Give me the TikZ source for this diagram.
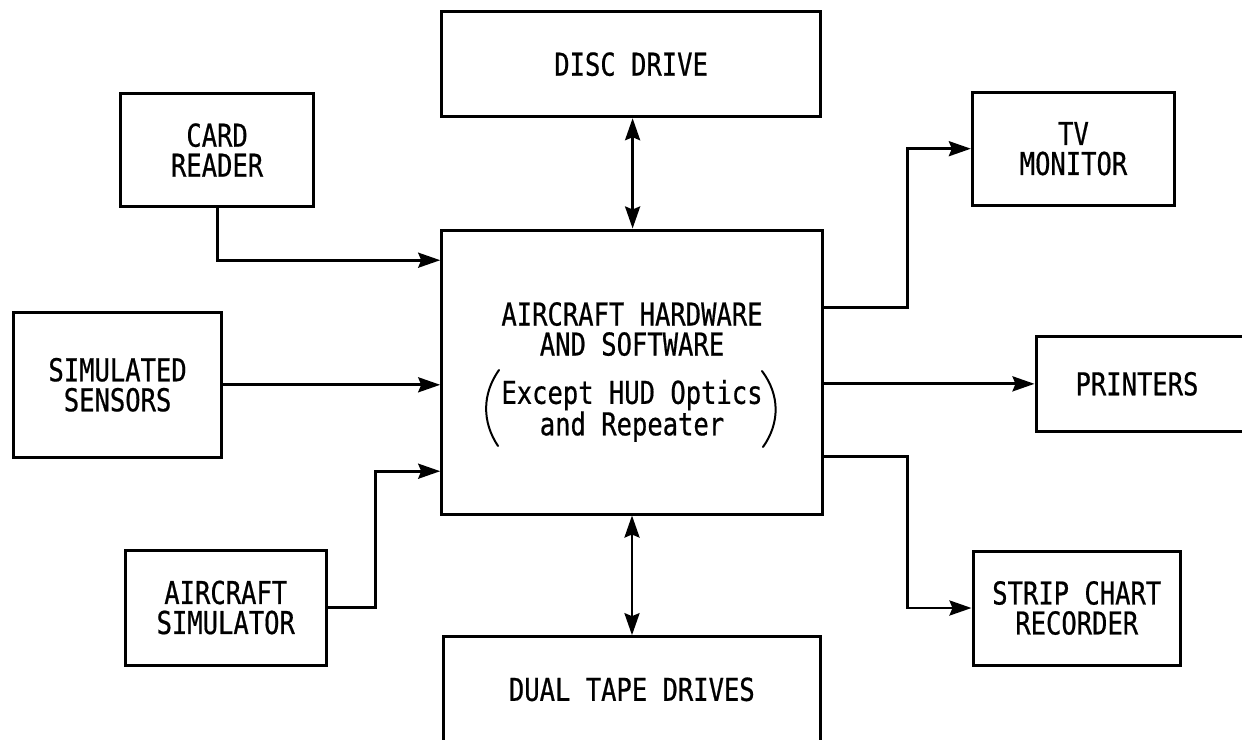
\documentclass[tikz,border=0pt]{standalone}
\usepackage{fontspec}
\usetikzlibrary{arrows.meta,calc}
\newfontfamily\mono[FakeStretch=0.81,FakeBold=0.6]{DejaVu Sans Mono}
\newcommand\labfont{\mono\fontsize{31.5}{30}\selectfont}
\tikzset{
  box/.style={draw, line width=3pt, inner sep=0pt, align=center, font=\labfont},
  tip/.tip={Stealth[length=22pt,width=15pt,inset=3pt]},
  arr/.style={line width=2.8pt, -tip},
  darr/.style={line width=2.8pt, tip-tip},
  paren/.style={line width=2pt, line cap=round}
}
\begin{document}
\begin{tikzpicture}[x=1pt,y=-1pt]
\clip (0,0) rectangle (1242,739);
\fill[white] (0,0) rectangle (1242,739);

\node[box, minimum width=378.8, minimum height=105] (disc) at (631.1,64.2) {DISC DRIVE};
\node[box, minimum width=193, minimum height=113.4] (card) at (217.1,150) {CARD\\READER};
\node[box, minimum width=202.3, minimum height=112.7] (tv) at (1073.5,148.7) {TV\\MONITOR};
\node[box, minimum width=380.6, minimum height=284] (cen) at (632,372) {AIRCRAFT HARDWARE\\AND SOFTWARE\\[18.3pt]Except HUD Optics\\and Repeater};
\node[box, minimum width=207.6, minimum height=145] (sens) at (117.6,384.8) {SIMULATED\\SENSORS};
\node[box, minimum width=214, minimum height=94.3] (prn) at (1143,383.85) {\hspace*{-12pt}PRINTERS};
\node[box, minimum width=200.9, minimum height=115] (acs) at (225.75,607.5) {AIRCRAFT\\SIMULATOR};
\node[box, minimum width=207.5, minimum height=114] (strip) at (1076.75,608) {STRIP CHART\\RECORDER};
\node[box, minimum width=377.7, minimum height=105.3] (tape) at (631.85,689.35) {DUAL TAPE DRIVES};

% parentheses around the note
\draw[paren] (499,370) .. controls (482,394) and (482,422) .. (498,446);
\draw[paren] (762,371) .. controls (780,395) and (780,423) .. (763,447);

% entry / exit points on the central box
\coordinate (cin1) at ($(cen.north west)+(0,31.7)$);
\coordinate (cin3) at ($(cen.north west)+(0,242.7)$);
\coordinate (cout1) at ($(cen.north east)+(0,79.3)$);
\coordinate (cout3) at ($(cen.north east)+(0,228.3)$);

\draw[arr] (card.south) |- (cin1);
\draw[arr] (sens.east) -- (sens.east -| cen.west);
\draw[arr] (acs.east) -- ++(47.5,0) |- (cin3);
\draw[arr] (cout1) -- ++(83.3,0) |- (tv.west);
\draw[arr] (prn.west -| cen.east) -- (prn.west);
\draw[arr] (cout3) -- ++(83.3,0) |- (strip.west);
\draw[darr] ($(disc.south)+(1.5,0)$) -- ($(disc.south |- cen.north)+(1.5,0)$);
\draw[darr] (cen.south) -- (cen.south |- tape.north);
\end{tikzpicture}
\end{document}
